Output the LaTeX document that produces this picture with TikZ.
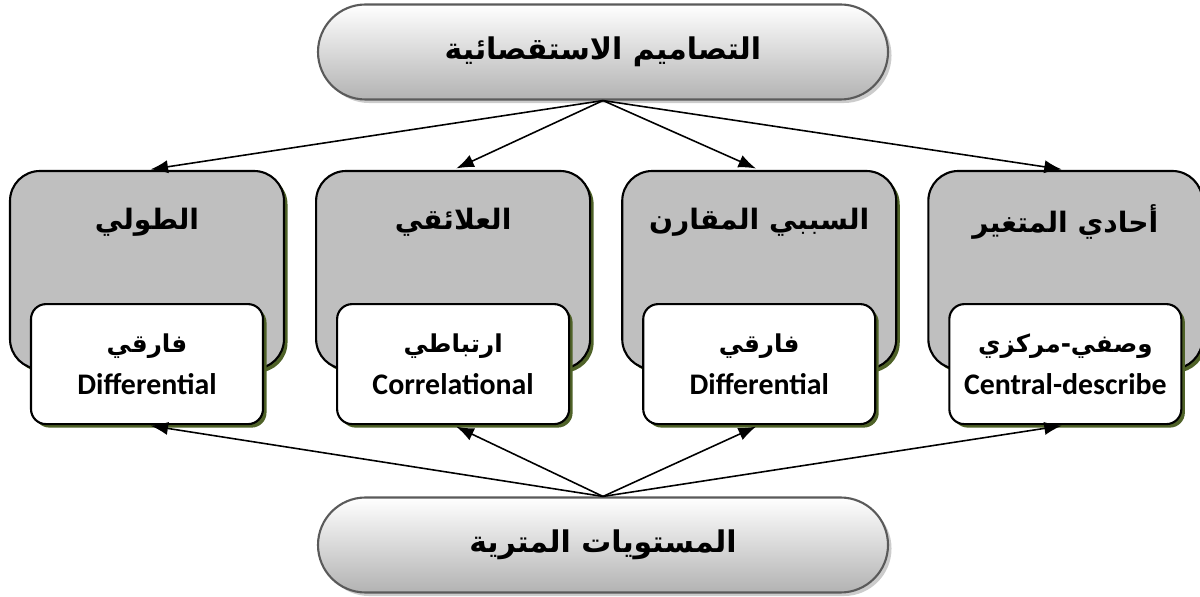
\documentclass[tikz,border=0pt]{standalone}
\usepackage{fontspec}
\setmainfont{Carlito}
\newfontfamily\arabicfont[Script=Arabic]{DejaVu Sans}
\TeXXeTstate=1
\usetikzlibrary{positioning,shadows,arrows.meta}
\definecolor{shadowolive}{RGB}{79,98,40}
\definecolor{pillline}{RGB}{90,90,90}
\newcommand{\boxar}[1]{{\fontsize{14}{16}\selectfont\arabicfont\beginR #1\endR}}

\tikzset{
	pill/.style={draw=pillline,line width=1.2pt,rounded corners=0.95cm,
		minimum width=11.4cm,minimum height=1.9cm,top color=white,bottom color=gray!60,
		drop shadow={shadow xshift=2pt,shadow yshift=-2pt,fill=gray!80},
		font=\fontsize{17}{20}\selectfont\bfseries\arabicfont},
	graybox/.style={draw=black,line width=1.2pt,fill=gray!50,rounded corners=0.6cm,
		minimum width=5.48cm,minimum height=3.96cm,
		general shadow={shadow xshift=2pt,shadow yshift=-2pt,fill=shadowolive}},
	graytitle/.style={font=\fontsize{16}{19}\selectfont\bfseries\arabicfont},
	whitebox/.style={draw=black,line width=1.2pt,fill=white,rounded corners=0.3cm,
		minimum width=4.64cm,minimum height=2.4cm,align=center,
		font=\fontsize{17}{24}\selectfont\bfseries,
		general shadow={shadow xshift=2pt,shadow yshift=-2pt,fill=shadowolive}},
	link/.style={black,line width=0.9pt,-{Latex[length=10pt,width=7.5pt]},shorten >=2pt}
}

\begin{document}
\begin{tikzpicture}
\useasboundingbox (0,0) rectangle (24,11.92);

% top and bottom
\node[pill] (top) at (12.06,10.88) {\beginR التصاميم الاستقصائية\endR};
\node[pill] (bottom) at (12.06,1.02) {\beginR المستويات المترية\endR};

% gray boxes
\node[graybox] (g1) at (2.94,6.52) {};
\node[graybox,right=0.6cm of g1] (g2) {};
\node[graybox,right=0.6cm of g2] (g3) {};
\node[graybox,right=0.6cm of g3] (g4) {};

\node[graytitle] (t1) at ([yshift=-1.05cm]g1.north) {\beginR الطولي\endR};
\node[graytitle] (t2) at ([yshift=-1.05cm]g2.north) {\beginR العلائقي\endR};
\node[graytitle] (t3) at ([yshift=-1.05cm]g3.north) {\beginR السببي المقارن\endR};
\node[graytitle] (t4) at ([yshift=-1.05cm]g4.north) {\beginR أحادي المتغير\endR};

% white boxes
\node[whitebox,anchor=north] (w1) at ([yshift=1.34cm]g1.south) {\boxar{فارقي}\\Differential};
\node[whitebox,anchor=north] (w2) at ([yshift=1.34cm]g2.south) {\boxar{ارتباطي}\\Correlational};
\node[whitebox,anchor=north] (w3) at ([yshift=1.34cm]g3.south) {\boxar{فارقي}\\Differential};
\node[whitebox,anchor=north] (w4) at ([yshift=1.34cm]g4.south) {\boxar{وصفي-مركزي}\\Central-describe};

% arrows
\draw[link] (top.south) -- (g1.north);
\draw[link] (top.south) -- (g2.north);
\draw[link] (top.south) -- (g3.north);
\draw[link] (top.south) -- (g4.north);

\draw[link] (bottom.north) -- (w1.south);
\draw[link] (bottom.north) -- (w2.south);
\draw[link] (bottom.north) -- (w3.south);
\draw[link] (bottom.north) -- (w4.south);
\end{tikzpicture}
\end{document}
